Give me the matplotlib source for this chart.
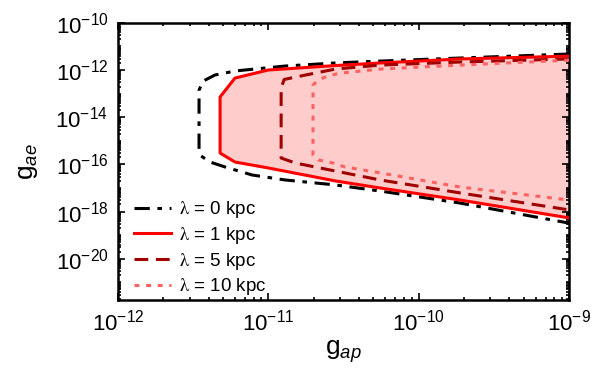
import numpy as np
import matplotlib
matplotlib.use('Agg')
import matplotlib.pyplot as plt
from matplotlib.font_manager import FontProperties
from matplotlib import ticker

plt.rcParams['font.family'] = ['Liberation Sans', 'DejaVu Sans']
plt.rcParams['mathtext.fontset'] = 'custom'
plt.rcParams['mathtext.rm'] = 'Liberation Sans'
plt.rcParams['mathtext.it'] = 'Liberation Sans:italic'

# contour boundaries, log10 values
# lambda = 0 kpc
x0 = [-9.0, -9.725, -10.257, -10.556, -10.889, -11.222, -11.355, -11.434, -11.461,
      -11.461, -11.448, -11.388, -11.288, -11.108, -10.889, -10.556, -10.257, -9.725, -9.0]
y0 = [-11.32, -11.49, -11.62, -11.70, -11.83, -12.04, -12.21, -12.47, -12.85,
      -15.39, -15.64, -15.90, -16.11, -16.45, -16.66, -16.87, -17.13, -17.64, -18.49]
# lambda = 1 kpc
x1 = [-9.0, -9.725, -10.257, -10.556, -11.002, -11.222, -11.321,
      -11.321, -11.222, -11.002, -10.556, -10.257, -9.725, -9.0]
y1 = [-11.41, -11.53, -11.70, -11.81, -12.00, -12.34, -13.14,
      -15.52, -15.90, -16.15, -16.70, -17.00, -17.51, -18.27]
# lambda = 5 kpc
x5 = [-9.0, -9.725, -10.257, -10.556, -10.822, -10.895, -10.915,
      -10.915, -10.822, -10.556, -10.257, -9.725, -9.0]
y5 = [-11.53, -11.66, -11.79, -11.96, -12.30, -12.40, -12.76,
      -15.73, -15.94, -16.28, -16.66, -17.21, -17.93]
# lambda = 10 kpc
x10 = [-9.0, -9.725, -10.257, -10.523, -10.603, -10.669, -10.703,
       -10.703, -10.669, -10.570, -10.490, -10.257, -9.725, -9.0]
y10 = [-11.58, -11.79, -11.96, -12.13, -12.25, -12.42, -12.64,
       -15.61, -15.81, -15.94, -16.11, -16.36, -16.96, -17.51]

labels = [r'$\mathrm{\lambda}$ = 0 kpc', r'$\mathrm{\lambda}$ = 1 kpc',
          r'$\mathrm{\lambda}$ = 5 kpc', r'$\mathrm{\lambda}$ = 10 kpc']
xticks = [1e-12, 1e-11, 1e-10, 1e-9]
yticks = [1e-20, 1e-18, 1e-16, 1e-14, 1e-12, 1e-10]

p = lambda v: 10.0 ** np.array(v)

fig = plt.figure(figsize=(5.99, 3.69), dpi=100)
ax = fig.add_axes([0.197, 0.187, 0.753, 0.751])

ax.fill(p(x1), p(y1), facecolor='#ffcccc', edgecolor='none', zorder=1)
ax.plot(p(x0), p(y0), color='black', lw=2.2, dashes=(5, 2.5, 1.5, 2.5), label=labels[0], zorder=3)
ax.plot(p(x1), p(y1), color='#ff0000', lw=2.2, label=labels[1], zorder=4)
ax.plot(p(x5), p(y5), color='#a00000', lw=2.2, dashes=(4.5, 2.5), label=labels[2], zorder=5)
ax.plot(p(x10), p(y10), color='#ff6060', lw=2.2, dashes=(1.6, 2.2), label=labels[3], zorder=6)

ax.set_xscale('log')
ax.set_yscale('log')
ax.set_xlim(1e-12, 1e-9)
ax.set_ylim(10 ** -21.75, 1e-10)

ax.xaxis.set_major_locator(ticker.FixedLocator(xticks))
ax.yaxis.set_major_locator(ticker.FixedLocator(yticks))
# odd decades get unlabeled ticks of their own
ymin = [10.0 ** e * s for e in range(-22, -10) for s in range(1, 10)
        if 10.0 ** e * s not in yticks]
ax.yaxis.set_minor_locator(ticker.FixedLocator(ymin))
ax.xaxis.set_minor_locator(ticker.LogLocator(base=10, subs=np.arange(2, 10), numticks=10))
ax.yaxis.set_major_formatter(ticker.FuncFormatter(lambda v, pos: r'$10^{%d}$' % round(np.log10(v))))
ax.xaxis.set_major_formatter(ticker.FuncFormatter(lambda v, pos: r'$10^{%d}$' % round(np.log10(v))))
ax.yaxis.set_minor_formatter(ticker.NullFormatter())
ax.xaxis.set_minor_formatter(ticker.NullFormatter())

ax.tick_params(which='both', direction='in', top=True, right=True, labelsize=16, width=1.2)
ax.tick_params(which='major', length=5, pad=7)
ax.tick_params(which='minor', length=2.5)
for s in ax.spines.values():
    s.set_linewidth(1.8)

ax.set_xlabel(r'$\mathregular{g}_{\mathit{ap}}$', fontsize=19, labelpad=2)
ax.set_ylabel(r'$\mathregular{g}_{\mathit{ae}}$', fontsize=19, labelpad=11)

leg = ax.legend(loc='lower left', bbox_to_anchor=(0.0, -0.048), frameon=False,
                prop=FontProperties(family='Liberation Sans', size=13.5, math_fontfamily='stix'),
                handlelength=2.0, handletextpad=0.4, labelspacing=0.25, borderaxespad=0.45)

plt.savefig('out.png', dpi=100)
